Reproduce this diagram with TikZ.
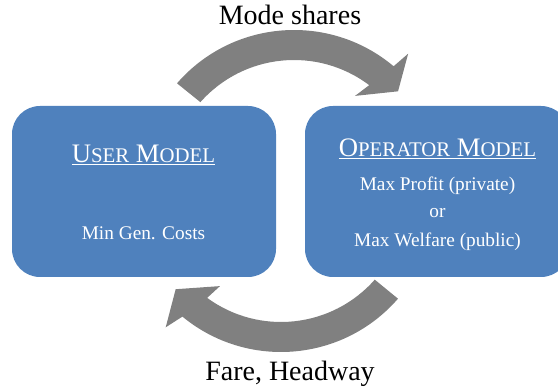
\documentclass[tikz,border=0pt]{standalone}
\usepackage{fontspec}
\setmainfont{Liberation Serif}
\usetikzlibrary{calc}
\definecolor{boxblue}{HTML}{4F81BD}
\definecolor{arrowgray}{HTML}{808080}
% fake small capitals for the box titles
\newcommand{\lowcaps}[1]{{\fontsize{20.8}{20.8}\selectfont #1}}
\tikzset{
  modelbox/.style={fill=boxblue, rounded corners=28pt, minimum width=264pt, minimum height=171pt, inner sep=0pt},
  boxtitle/.style={text=white, font=\fontsize{26.7}{30}\selectfont, anchor=base},
  boxtext/.style={text=white, font=\fontsize{19.3}{22}\selectfont, anchor=base},
  flowlabel/.style={font=\fontsize{28}{30}\selectfont, anchor=base},
  flowarrow/.style={fill=arrowgray}
}
\begin{document}
\begin{tikzpicture}[x=1pt,y=1pt]
\clip (0,0) rectangle (558,389);
% the two models
\node[modelbox] (user) at (144,197.5){};
\node[modelbox] (oper) at (437,197.5){};
\node[boxtitle] (usertitle) at (143.5,226){\underline{U\lowcaps{SER} M\lowcaps{ODEL}}};
\node[boxtext] (usercost) at (143.5,149){Min Gen. Costs};
\node[boxtitle] (opertitle) at (437.5,232){\underline{O\lowcaps{PERATOR} M\lowcaps{ODEL}}};
\node[boxtext] (profit) at (437.5,198){Max Profit (private)};
\node[boxtext] (orword) at (437.5,171){or};
\node[boxtext] (welfare) at (437.5,142){Max Welfare (public)};
% curved block arrows
\coordinate (tophub) at (294,204);
\coordinate (bothub) at (281,192);
\fill[flowarrow] ($(tophub)+(139:155)$) arc[start angle=139, end angle=50, radius=155]
  -- ($(tophub)+(49:174)$) -- ($(tophub)+(42:140)$) -- ($(tophub)+(55.6:108)$)
  -- ($(tophub)+(53:125)$) arc[start angle=53, end angle=138.5, radius=125] -- cycle;
\fill[flowarrow] ($(bothub)+(-41:155)$) arc[start angle=-41, end angle=-129.5, radius=155]
  -- ($(bothub)+(-131.5:174)$) -- ($(bothub)+(-138.8:140)$) -- ($(bothub)+(-124.4:108)$)
  -- ($(bothub)+(-126.2:125)$) arc[start angle=-126.2, end angle=-41.4, radius=125] -- cycle;
\node[flowlabel] (shares) at (290,364){Mode shares};
\node[flowlabel] (fare) at (290,9){Fare, Headway};
\end{tikzpicture}
\end{document}
